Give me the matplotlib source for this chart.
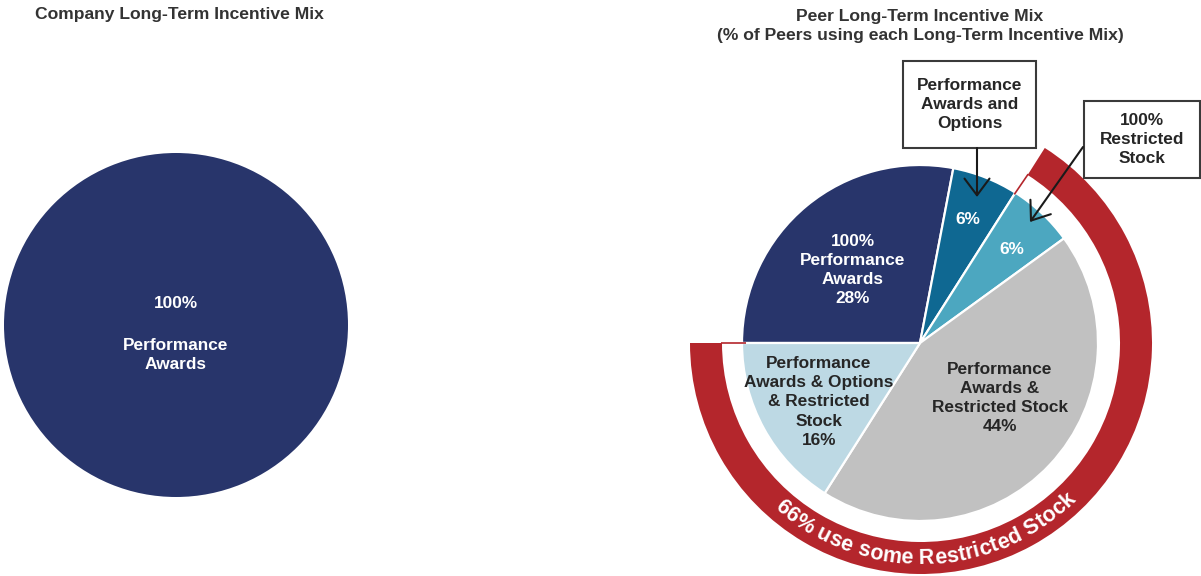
import numpy as np
import matplotlib
matplotlib.use("Agg")
import matplotlib.pyplot as plt
from matplotlib.patches import Wedge, Rectangle
from matplotlib.font_manager import FontProperties, findfont
from matplotlib.ft2font import FT2Font

# ---------------- data ----------------
company_labels = ["Performance Awards"]
company_values = [100]

peer_labels = [
    "100%\nPerformance\nAwards\n28%",
    "6%",
    "6%",
    "Performance\nAwards &\nRestricted Stock\n44%",
    "Performance\nAwards & Options\n& Restricted\nStock\n16%",
]
peer_values = [28, 6, 6, 44, 16]
restricted_share = 66  # light teal + gray + light blue
ring_text = "66% use some Restricted Stock"
box1_text = "Performance\nAwards and\nOptions"
box2_text = "100%\nRestricted\nStock"

title_left = "Company Long-Term Incentive Mix"
title_right = "Peer Long-Term Incentive Mix\n(% of Peers using each Long-Term Incentive Mix)"

# ---------------- style ----------------
NAVY = "#28356b"
DTEAL = "#0f6892"
LTEAL = "#4ca7c0"
GRAY = "#c1c1c1"
LBLUE = "#bdd9e4"
RED = "#b4262c"
TXT = "#262626"
peer_colors = [NAVY, DTEAL, LTEAL, GRAY, LBLUE]
peer_text_colors = ["white", "white", "white", TXT, TXT]

plt.rcParams["font.family"] = ["Liberation Sans", "DejaVu Sans"]
FS = 12.4
LS = 1.36

W, H = 1201, 576
fig = plt.figure(figsize=(W / 100, H / 100), dpi=100)
ax = fig.add_axes([0, 0, 1, 1])


def P(x, y):
    """pixel (top-left origin) -> data"""
    return (x, H - y)


# ---------------- left pie ----------------
lc = P(176, 325)
ax.pie(company_values, colors=[NAVY], center=lc, radius=172, startangle=90,
       wedgeprops=dict(linewidth=0))
ax.text(lc[0], lc[1] + 22, "100%", ha="center", va="center", color="white",
        fontsize=FS, fontweight="bold")
ax.text(lc[0], lc[1] - 30, "Performance\nAwards", ha="center", va="center",
        color="white", fontsize=FS, fontweight="bold", linespacing=LS)

# ---------------- right pie ----------------
rc = P(920, 343)
R = 178
wedges, _ = ax.pie(peer_values, colors=peer_colors, center=rc, radius=R,
                   startangle=180, counterclock=False,
                   wedgeprops=dict(edgecolor="white", linewidth=1.6))

label_pos = [(-67, 73), (48, 123), (92, 94), (80, -55), (-101, -59)]
for lab, (dx, dy), col in zip(peer_labels, label_pos, peer_text_colors):
    ax.text(rc[0] + dx, rc[1] + dy, lab, ha="center", va="center", color=col,
            fontsize=FS, fontweight="bold", linespacing=LS)

# ---------------- red ring ----------------
ring_c = (921, rc[1])
r_out, r_in = 231, 199
end_angle = 180 - (100 - restricted_share) / 100 * 360  # 57.6 deg
ring = Wedge(ring_c, r_out, 180, end_angle + 360, width=r_out - r_in,
             facecolor=RED, edgecolor="none")
ax.add_patch(ring)
# thin red connector lines at the ring ends
for ang, r0 in ((end_angle, R - 2), (180, R - 4)):
    a = np.deg2rad(ang)
    ax.plot([rc[0] + r0 * np.cos(a), ring_c[0] + (r_in + 1) * np.cos(a)],
            [rc[1] + r0 * np.sin(a), ring_c[1] + (r_in + 1) * np.sin(a)],
            color=RED, lw=1.2, solid_capstyle="butt")

# curved text along ring (advance widths from the font itself)
RFS = 15.5
fp = FontProperties(family=["Liberation Sans"], weight="bold", size=RFS)
ft = FT2Font(findfont(fp))
ft.set_size(RFS, 100)
advances = []
for ch in ring_text:
    g = ft.load_char(ord(ch))
    advances.append(g.linearHoriAdvance / 65536.0)
advances = np.array(advances) * 1.0
starts = np.concatenate([[0], np.cumsum(advances)[:-1]])
centers = starts + advances / 2
total = advances.sum()
r_txt = 214.5
r_base = r_txt + 6.5
theta_c = np.deg2rad(-88.5)
for ch, sc in zip(ring_text, centers):
    if ch == " ":
        continue
    ang = theta_c + (sc - total / 2) / r_txt
    x = ring_c[0] + r_base * np.cos(ang)
    y = ring_c[1] + r_base * np.sin(ang)
    ax.text(x, y, ch, fontproperties=fp, color="white", ha="center",
            va="baseline", rotation=np.rad2deg(ang) + 90,
            rotation_mode="anchor")

# ---------------- callout boxes ----------------
def box(x0, y0, x1, y1, text):
    bl = P(x0, y1)
    ax.add_patch(Rectangle(bl, x1 - x0, y1 - y0, facecolor="white",
                           edgecolor="#3a3a3a", lw=1.5, zorder=5))
    cx, cy = P((x0 + x1) / 2, (y0 + y1) / 2)
    ax.text(cx, cy, text, ha="center", va="center", color=TXT, fontsize=FS,
            fontweight="bold", linespacing=LS, zorder=6)


box(903, 61, 1036, 148, box1_text)
box(1084, 101, 1200, 178, box2_text)

arrow = dict(arrowstyle="->,head_length=0.6,head_width=0.45", color="#1a1a1a",
             lw=1.5, mutation_scale=20, shrinkA=0, shrinkB=0)
ax.annotate("", xy=P(977, 197), xytext=P(977, 148), arrowprops=arrow, zorder=7)
ax.annotate("", xy=P(1030, 222), xytext=P(1083, 147), arrowprops=arrow, zorder=7)

# ---------------- titles ----------------
ax.text(35, H - 15, title_left, ha="left", va="center", color="#333333",
        fontsize=FS + 0.2, fontweight="bold")
ax.text(920, H - 26, title_right, ha="center", va="center", color="#333333",
        fontsize=FS + 0.2, fontweight="bold", linespacing=LS)

ax.set_xlim(0, W)
ax.set_ylim(0, H)
ax.set_aspect("equal")
ax.axis("off")
fig.savefig("out.png", dpi=100)
